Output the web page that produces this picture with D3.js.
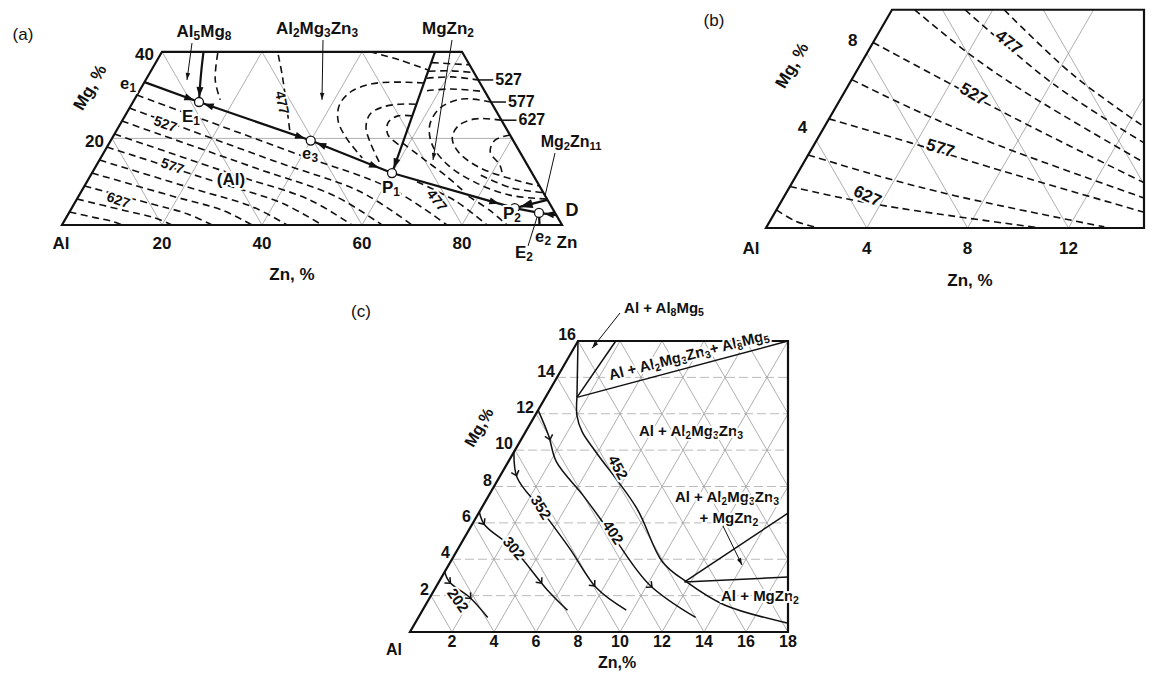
<!DOCTYPE html>
<html>
<head>
<meta charset="utf-8">
<script src="https://cdn.jsdelivr.net/npm/d3@7/dist/d3.min.js"></script>
<style>
  body { margin: 0; background: #fff; }
  svg text { font-family: "Liberation Sans", Arial, Helvetica, sans-serif; fill: #111; }
  .grid { fill: none; stroke: #8c8c8c; stroke-width: 0.7; }
  .grid-h { fill: none; stroke: #a8a8a8; stroke-width: 0.8; stroke-dasharray: 9 4; }
  .frame { fill: none; stroke: #111; stroke-width: 2.2; stroke-linejoin: miter; }
  .iso { fill: none; stroke: #111; stroke-width: 1.6; stroke-dasharray: 7 4.5; }
  .uni { fill: none; stroke: #111; stroke-width: 2.2; }
  .thin { fill: none; stroke: #111; stroke-width: 1.5; }
  .lead { fill: none; stroke: #111; stroke-width: 1; }
  .halo { stroke: #fff; stroke-width: 4; paint-order: stroke; stroke-linejoin: round; }
</style>
</head>
<body>
<svg width="1153" height="675"></svg>
<script>
const SQ = Math.sqrt(3) / 2;

// ---------- (a) liquidus Al-Mg-Zn, compositions [Zn %, Mg %] ----------
const regionA = [[0, 0], [100, 0], [60, 40], [0, 40]];
const gridZnA = [20, 40, 60, 80];
const gridMgA = [20];
const gridSumA = [20, 40, 60, 80];      // Zn + Mg = const  (Al lines)
const tickZnA = [20, 40, 60, 80];
const tickMgA = [20, 40];

// invariant points
const e1 = [0, 33], E1 = [13.2, 28.4], e3 = [40, 19.5], P1 = [60, 12];
const P2 = [88.6, 3.9], E2 = [94, 2.8], e2 = [95.5, 0], D = [97.7, 2.3];
const topE1 = [8.3, 40], topP1 = [54.6, 40], sideP2 = [94.2, 5.8];
const invariantA = [E1, e3, P1, P2, E2];

const valleysA = [
  [e1, E1], [e3, E1], [e3, P1], [P1, P2], [sideP2, P2], [P2, E2], [D, E2], [E2, e2], [topP1, P1]
];
const curveE1 = [topE1, [9.9, 36], [11.6, 32], E1];
// [from, to, gap before "to" in px]
const arrowsA = [
  [e1, E1, 5], [[11.6, 32], E1, 5], [e3, E1, 5], [E1, e3, 6], [P1, e3, 6],
  [e3, P1, 14], [topP1, P1, 5], [P1, P2, 16], [sideP2, P2, 5], [D, E2, 5]
];

// isotherms, (Al) field
const isoAlA = [
  [[0, 3], [6, 1.65], [9.6, 0.84], [12, 0]],
  [[0, 6], [11, 3.3], [17.6, 1.7], [22, 0]],
  [[0, 9], [15, 5], [24, 2.5], [30, 0]],
  [[0, 12], [19, 6.6], [30.4, 3.4], [38, 0]],
  [[0, 15], [22.5, 8.25], [36, 4.2], [45, 0]],
  [[0, 18], [26, 9.9], [41.6, 5], [52, 0]],
  [[0, 21], [29, 11.5], [46.4, 5.9], [58, 0]],
  [[0, 24], [32, 13.2], [51.2, 6.7], [64, 0]],
  [[0, 27], [35, 14.8], [56, 7.6], [70, 0]],
  [[0, 30], [38.5, 16.5], [61.6, 8.4], [77, 0]],
  [[66, 10], [76, 5.5], [85, 0]],
  [[78, 6.6], [84, 3.3], [89, 0]]
];
// isotherms, Al2Mg3Zn3 field
const isoTA = [
  [[11.3, 39.7], [13.9, 33.5], [17.2, 28.9]],
  [[23.6, 39.3], [27, 34.2], [34.6, 21.9]],
  [[41.6, 40], [48.5, 38.1], [55.3, 35.8]],
  [[56, 32.8], [50.1, 33], [45.7, 32.6], [42.5, 30.9], [41.6, 27.9], [43.1, 24.2], [46.6, 20.3], [52.3, 15.5]],
  [[56.8, 27.9], [53.6, 27.9], [50.4, 27.2], [48.8, 25.6], [49.5, 22.6], [52, 19.2], [56.4, 14.3]],
  [[57.4, 25.2], [54.6, 25.2], [53.4, 23.6], [54.8, 20.8], [58.7, 18.2]]
];
// isotherms, MgZn2 field
const isoMA = [
  [[55.2, 37.5], [63, 37]],
  [[55.6, 35.5], [60, 35.6], [64.8, 35.2]],
  [[56, 33.9], [60.9, 34.2], [66.5, 33.5]],
  [[57.5, 31], [62, 31.4], [69.2, 30.8]],
  [[71.6, 28.4], [65.5, 29.1], [62.1, 27], [62, 23.1], [64.8, 18.5], [70.2, 13.9], [77.6, 9.9], [86.1, 6.9], [94, 6]],
  [[75.8, 24.2], [70.4, 24.5], [67.8, 22.9], [68, 20.1], [70.8, 16.9], [77, 13.2], [85.4, 10.4], [91, 9]],
  [[79.2, 20.8], [76.8, 19.6], [77.2, 16.9], [80.6, 13.9], [81.9, 12.2]],
  [[58.7, 18.9], [65.1, 15], [71.5, 11.1], [76, 8.1]],
  [[78, 11.5], [85.5, 8.6], [92.5, 7.5]]
];
const edgeTempsA = [527, 577, 627];
const edgeMgA = [33.5, 28.4, 24.2];

// ---------- (b) Al corner ----------
const regionB = [[0, 0], [15, 0], [10, 10], [0, 10]];
const gridZnB = [4, 8, 12];
const gridSumB = [4, 8, 12, 16];
const tickZnB = [4, 8, 12];
const tickMgB = [4, 8];
const isoB = [
  [[0, 0.83], [1.0, 0.32], [1.9, 0.05]],
  [[0, 1.9], [2.8, 1.28], [5.5, 0.8], [10.9, 0]],
  [[0, 3.35], [3.4, 2.35], [6.8, 1.47], [13.4, 0.05]],
  [[0, 5], [3.8, 3.9], [7.45, 2.8], [14.6, 0.73]],
  [[0, 6.8], [3.7, 5.2], [7.3, 3.8], [14.3, 1.38]],
  [[0, 8.5], [3.6, 6.8], [7.2, 5.1], [14, 2.06]],
  [[0.9, 10], [4.2, 7.9], [7.4, 6.1], [13.5, 3.0]],
  [[2.9, 10], [8.1, 6.6], [13.05, 3.9]],
  [[4.45, 10], [8.7, 7.0], [12.7, 4.63]]
];

// ---------- (c) solidus / solvus region ----------
const regionC = [[0, 0], [18, 0], [10, 16], [0, 16]];
const gridZnC = [2, 4, 6, 8, 10, 12, 14, 16];
const gridMgC = [2, 4, 6, 8, 10, 12, 14];
const gridSumC = [2, 4, 6, 8, 10, 12, 14, 16, 18, 20, 22, 24, 26];
const tickZnC = [2, 4, 6, 8, 10, 12, 14, 16, 18];
const tickMgC = [2, 4, 6, 8, 10, 12, 14, 16];
const iso202C = [[0, 3.3], [0.5, 2.75], [1.9, 1.9], [3.3, 0.8]];
const iso302C = [[0, 6.6], [0.6, 5.9], [2.6, 4.6], [5.4, 2.3], [6.9, 1.2]];
const iso352C = [[0, 9.9], [0.85, 8.5], [2.8, 6.8], [5.3, 4.6], [7.7, 2.4], [9.7, 1.2]];
const iso402C = [[0, 12.2], [1.2, 10.8], [2.3, 9.35], [4.5, 7.5], [7, 5.3], [10.1, 2.6], [13.2, 0.8]];
const iso452C = [[1.5, 12.9], [2, 11.9], [2.7, 11], [3.9, 9.9], [7.4, 6.8], [10.1, 3.85], [11.8, 2.75], [14.2, 1.5], [17.7, 0.5]];
const J = [1.5, 12.9], K = [11.7, 2.75];
const fieldLinesC = [[[0, 16], J], [J, [1.8, 16]], [J, [10, 16]], [K, [14.73, 6.54]], [K, [16.49, 3.02]]];

// ---------- helpers ----------
const svg = d3.select("svg");
const defs = svg.append("defs");

function ternary(x0, y0, side) {
  const sx = d3.scaleLinear().domain([0, 100]).range([x0, x0 + side]);
  const sy = d3.scaleLinear().domain([0, 100]).range([y0, y0 - side * SQ]);
  return d => [sx(d[0] + d[1] / 2), sy(d[1])];
}
const pa = ternary(62, 225, 500);
const pb = ternary(766, 228, 2520);
const pc = ternary(410, 632, 2100);

const lineOf = (p, curve) => d3.line().x(d => p(d)[0]).y(d => p(d)[1]).curve(curve || d3.curveLinear);
const smooth = d3.curveCatmullRom.alpha(0.5);

function drawGrid(g, p, id, region, zn, mg, sum, hClass) {
  defs.append("clipPath").attr("id", id).append("path").attr("d", lineOf(p)(region) + "Z");
  const gg = g.append("g").attr("clip-path", `url(#${id})`);
  const diag = zn.map(c => [[c, 0], [c, 100 - c]]).concat(sum.map(c => [[c, 0], [0, c]]));
  gg.selectAll(null).data(diag).join("path").attr("class", "grid").attr("d", lineOf(p));
  gg.selectAll(null).data(mg.map(c => [[0, c], [100 - c, c]])).join("path")
    .attr("class", hClass).attr("d", lineOf(p));
}

function label(g, x, y, s, o = {}) {
  const size = o.size || 16;
  const t = g.append("text").attr("x", x).attr("y", y)
    .attr("font-size", size).attr("font-weight", o.weight || "bold")
    .attr("text-anchor", o.anchor || "middle").attr("dominant-baseline", "middle");
  if (o.rotate) t.attr("transform", `rotate(${o.rotate},${x},${y})`);
  if (o.halo) t.classed("halo", true);
  if (o.chem) {
    let sub = false;
    s.match(/\d+|\D+/g).forEach(part => {
      const num = /\d/.test(part);
      const ts = t.append("tspan").text(part).attr("font-size", num ? size * 0.7 : size);
      if (num && !sub) ts.attr("dy", size * 0.25);
      if (!num && sub) ts.attr("dy", -size * 0.25);
      sub = num;
    });
  } else t.text(s);
  return t;
}

function arrowHead(g, p, from, to, back, len, wid) {
  const [x1, y1] = p(from), [x2, y2] = p(to);
  const d = Math.hypot(x2 - x1, y2 - y1), ux = (x2 - x1) / d, uy = (y2 - y1) / d;
  const tx = x2 - ux * back, ty = y2 - uy * back;
  const bx = tx - ux * len, by = ty - uy * len;
  g.append("path")
    .attr("d", `M${tx},${ty}L${bx - uy * wid / 2},${by + ux * wid / 2}L${bx + uy * wid / 2},${by - ux * wid / 2}Z`)
    .attr("fill", "#111");
}

function leader(g, p, start, target, head) {
  const [x2, y2] = p(target);
  g.append("line").attr("class", "lead")
    .attr("x1", start[0]).attr("y1", start[1]).attr("x2", x2).attr("y2", y2);
  if (head) {
    const inv = [start, target];
    arrowHead(g, d => (d === start ? start : p(d)), inv[0], inv[1], 0, 7, 4.5);
  }
}

function chevrons(g, sel, fracs) {
  const node = sel.node(), L = node.getTotalLength();
  fracs.forEach(f => {
    const a = node.getPointAtLength(f * L), b = node.getPointAtLength(Math.min(L, f * L + 1));
    const ang = Math.atan2(b.y - a.y, b.x - a.x) * 180 / Math.PI;
    g.append("path").attr("d", "M-4.5,-4L0,0L-4.5,4").attr("class", "thin").attr("stroke-width", 1.2)
      .attr("transform", `translate(${a.x},${a.y}) rotate(${ang})`);
  });
}

// ---------- panel (a) ----------
const gA = svg.append("g");
drawGrid(gA, pa, "clipA", regionA, gridZnA, gridMgA, gridSumA, "grid");

gA.selectAll(null).data(isoAlA.concat(isoTA, isoMA)).join("path")
  .attr("class", "iso").attr("d", lineOf(pa, smooth));

gA.selectAll(null).data(valleysA).join("path").attr("class", "uni").attr("d", lineOf(pa));
gA.append("path").datum(curveE1).attr("class", "uni").attr("d", lineOf(pa, smooth));
gA.append("path").datum(regionA).attr("class", "frame").attr("d", d => lineOf(pa)(d) + "Z");

arrowsA.forEach(([f, t, back], i) => arrowHead(gA, pa, f, t, back, i === 8 ? 13 : 10, i === 8 ? 9 : 7));
gA.selectAll(null).data(invariantA).join("circle")
  .attr("cx", d => pa(d)[0]).attr("cy", d => pa(d)[1]).attr("r", 4.5)
  .attr("fill", "#fff").attr("stroke", "#111").attr("stroke-width", 1.3);

// right edge temperatures
edgeTempsA.forEach((t, i) => {
  const [x, y] = pa([100 - edgeMgA[i], edgeMgA[i]]);
  gA.append("line").attr("class", "thin").attr("x1", x).attr("y1", y).attr("x2", x + 15).attr("y2", y);
  label(gA, x + 17, y + 1, String(t), { anchor: "start", size: 16 });
});

[["527", 165, 125, 20], ["577", 172, 167, 20], ["627", 118, 201, 20], ["477", 281, 103, 78], ["477", 436, 201, 52]]
  .forEach(([s, x, y, r]) => label(gA, x, y, s, { size: 14, rotate: r, halo: true }));

tickZnA.forEach(z => label(gA, pa([z, 0])[0], 245, String(z), { size: 17 }));
tickMgA.forEach(m => { const [x, y] = pa([0, m]); label(gA, x - 8, y + 4, String(m), { size: 17, anchor: "end" }); });
label(gA, 61, 245, "Al", { size: 17 });
label(gA, 567, 244, "Zn", { size: 17 });
label(gA, 292, 276, "Zn, %", { size: 17 });
label(gA, 91, 88, "Mg, %", { size: 17, rotate: -60 });
label(gA, 23, 36, "(a)", { size: 17, weight: "normal" });

label(gA, 204, 33, "Al5Mg8", { size: 17, chem: true });
label(gA, 317, 30, "Al2Mg3Zn3", { size: 17, chem: true });
label(gA, 448, 30, "MgZn2", { size: 17, chem: true });
label(gA, 571, 143, "Mg2Zn11", { size: 16, chem: true });
leader(gA, pa, [192, 43], [8.25, 33.5], true);
leader(gA, pa, [323, 40], [37.55, 28.9], true);
leader(gA, pa, [452, 40], [66.7, 15], true);
leader(gA, pa, [555, 153], [93.25, 6.7], false);
leader(gA, pa, [528, 246], [94.1, 1.85], false);

[["e1", 128, 85], ["E1", 191, 118], ["e3", 310, 155], ["P1", 391, 189], ["P2", 512, 215],
 ["e2", 543, 238], ["E2", 524, 254]].forEach(([s, x, y]) => label(gA, x, y, s, { size: 17, chem: true, halo: true }));
label(gA, 231, 181, "(Al)", { size: 17, halo: true });
label(gA, 572, 211, "D", { size: 18 });

// ---------- panel (b) ----------
const gB = svg.append("g");
drawGrid(gB, pb, "clipB", regionB, gridZnB, [], gridSumB, "grid");
gB.selectAll(null).data(isoB).join("path").attr("class", "iso")
  .attr("stroke-width", 1.8).attr("stroke-dasharray", "8 5.5").attr("d", lineOf(pb, smooth));
gB.append("path").datum(regionB).attr("class", "frame").attr("stroke-width", 2.5)
  .attr("d", d => lineOf(pb)(d) + "Z");
[["627", 867, 197, 25], ["577", 940, 149, 17], ["527", 973, 95, 30], ["477", 1008, 43, 38]]
  .forEach(([s, x, y, r]) => label(gB, x, y, s, { size: 17, rotate: r, halo: true }));
tickZnB.forEach(z => label(gB, pb([z, 0])[0], 250, String(z), { size: 17 }));
tickMgB.forEach(m => { const [x, y] = pb([0, m]); label(gB, x - 14, y - 12, String(m), { size: 17 }); });
label(gB, 751, 250, "Al", { size: 17 });
label(gB, 970, 282, "Zn, %", { size: 17 });
label(gB, 793, 66, "Mg, %", { size: 17, rotate: -60 });
label(gB, 714, 22, "(b)", { size: 17, weight: "normal" });

// ---------- panel (c) ----------
const gC = svg.append("g");
drawGrid(gC, pc, "clipC", regionC, gridZnC, gridMgC, gridSumC, "grid-h");
gC.selectAll(null).data(fieldLinesC).join("path").attr("class", "thin").attr("d", lineOf(pc));
[[iso202C, [0.2, 0.6]], [iso302C, [0.1, 0.72]], [iso352C, [0.12, 0.8]], [iso402C, [0.12, 0.8]], [iso452C, []]]
  .forEach(([pts, fr]) => {
    const s = gC.append("path").datum(pts).attr("class", "thin").attr("d", lineOf(pc, smooth));
    chevrons(gC, s, fr);
  });
gC.append("path").datum(regionC).attr("class", "frame").attr("stroke-width", 2.5)
  .attr("d", d => lineOf(pc)(d) + "Z");

[["452", 617, 468, 62], ["402", 612, 533, 57], ["352", 540, 508, 58], ["302", 513, 549, 50], ["202", 457, 601, 55]]
  .forEach(([s, x, y, r]) => label(gC, x, y, s, { size: 15, rotate: r, halo: true }));

tickZnC.forEach(z => label(gC, pc([z, 0])[0], 643, String(z), { size: 16 }));
tickMgC.forEach(m => { const [x, y] = pc([0, m]); label(gC, x - 2, y - 5, String(m), { size: 16, anchor: "end" }); });
label(gC, 394, 651, "Al", { size: 16 });
label(gC, 617, 664, "Zn,%", { size: 16 });
label(gC, 480, 428, "Mg,%", { size: 16, rotate: -60 });
label(gC, 361, 313, "(c)", { size: 17, weight: "normal" });

label(gC, 664, 309, "Al + Al8Mg5", { size: 15, chem: true });
label(gC, 689, 356, "Al + Al2Mg3Zn3+ Al8Mg5", { size: 15, chem: true, rotate: -14.3, halo: true });
label(gC, 691, 432, "Al + Al2Mg3Zn3", { size: 15, chem: true, halo: true });
label(gC, 727, 498, "Al + Al2Mg3Zn3", { size: 15, chem: true, halo: true });
label(gC, 729, 519, "+ MgZn2", { size: 15, chem: true, halo: true });
label(gC, 760, 597, "Al + MgZn2", { size: 15, chem: true, halo: true });
leader(gC, pc, [620, 313], [0.87, 15.6], true);
leader(gC, pc, [723, 526], [13.97, 3.68], true);
</script>
</body>
</html>
